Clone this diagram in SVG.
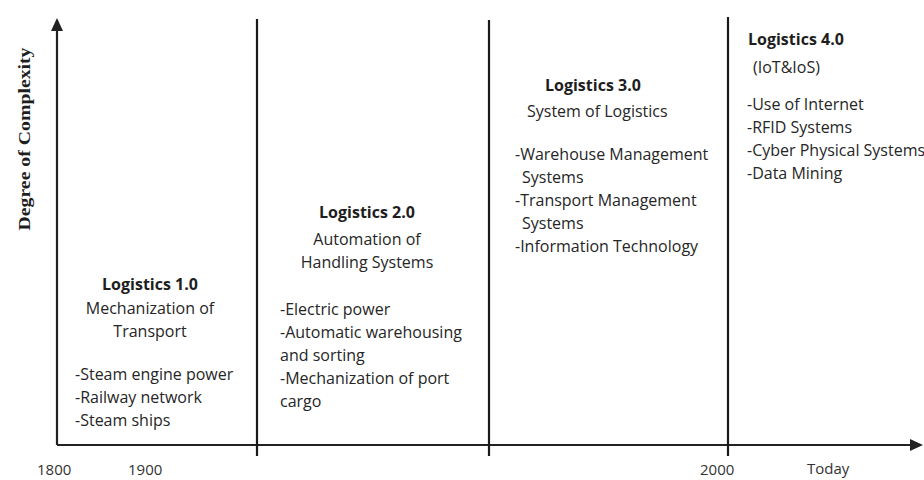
<svg xmlns="http://www.w3.org/2000/svg" width="924" height="480" viewBox="0 0 924 480">
  <style>
    .axis { stroke: #222; stroke-width: 2.2; fill: none; }
    .sep { stroke: #1a1a1a; stroke-width: 2.2; }
    text { font-family: "Open Sans", "Noto Sans", sans-serif; font-size: 16px; fill: #262626; }
    .head { font-weight: bold; fill: #1e1e1e; }
    .mid { text-anchor: middle; }
    .ylabel { font-family: "Liberation Serif", "Times New Roman", serif; font-weight: bold; font-size: 17px; fill: #1e1e1e; }
    .tick { font-size: 15px; fill: #333; }
  </style>
  <rect width="924" height="480" fill="#ffffff"/>

  <!-- axes and era separators -->
  <g id="connectors">
    <path class="axis" d="M57,445 L57,22"/>
    <path d="M51,31 L57,18 L63,31 z" fill="#222"/>
    <path class="axis" d="M57,445 L912,445"/>
    <path d="M910,439 L923,445 L910,451 z" fill="#222"/>
    <line class="sep" x1="257" y1="19" x2="257" y2="456"/>
    <line class="sep" x1="489" y1="20" x2="489" y2="456"/>
    <line class="sep" x1="728" y1="17" x2="728" y2="456"/>
  </g>

  <!-- axis labels -->
  <g id="y-label">
    <text class="ylabel" transform="translate(30,139) rotate(-90)" text-anchor="middle" textLength="183" lengthAdjust="spacingAndGlyphs">Degree of Complexity</text>
  </g>
  <g id="time-labels">
    <text class="tick" x="37" y="475">1800</text>
    <text class="tick" x="128" y="475">1900</text>
    <text class="tick" x="700" y="475">2000</text>
    <text class="tick" x="807" y="474">Today</text>
  </g>

  <!-- era 1 -->
  <g id="logistics-1">
    <text class="head mid" x="150" y="290">Logistics 1.0</text>
    <text class="mid" x="150" y="314">Mechanization of</text>
    <text class="mid" x="150" y="337">Transport</text>
    <text x="75" y="380">-Steam engine power</text>
    <text x="75" y="403">-Railway network</text>
    <text x="75" y="426">-Steam ships</text>
  </g>

  <!-- era 2 -->
  <g id="logistics-2">
    <text class="head mid" x="367" y="218">Logistics 2.0</text>
    <text class="mid" x="367" y="245">Automation of</text>
    <text class="mid" x="367" y="268">Handling Systems</text>
    <text x="280" y="315">-Electric power</text>
    <text x="280" y="338">-Automatic warehousing</text>
    <text x="280" y="361">and sorting</text>
    <text x="280" y="384">-Mechanization of port</text>
    <text x="280" y="407">cargo</text>
  </g>

  <!-- era 3 -->
  <g id="logistics-3">
    <text class="head" x="545" y="91">Logistics 3.0</text>
    <text x="527" y="117">System of Logistics</text>
    <text x="515" y="160">-Warehouse Management</text>
    <text x="522" y="183">Systems</text>
    <text x="515" y="206">-Transport Management</text>
    <text x="522" y="229">Systems</text>
    <text x="515" y="252">-Information Technology</text>
  </g>

  <!-- era 4 -->
  <g id="logistics-4">
    <text class="head" x="748" y="45">Logistics 4.0</text>
    <text x="753" y="73">(IoT&amp;IoS)</text>
    <text x="747" y="110">-Use of Internet</text>
    <text x="747" y="133">-RFID Systems</text>
    <text x="747" y="156">-Cyber Physical Systems</text>
    <text x="747" y="179">-Data Mining</text>
  </g>
</svg>
